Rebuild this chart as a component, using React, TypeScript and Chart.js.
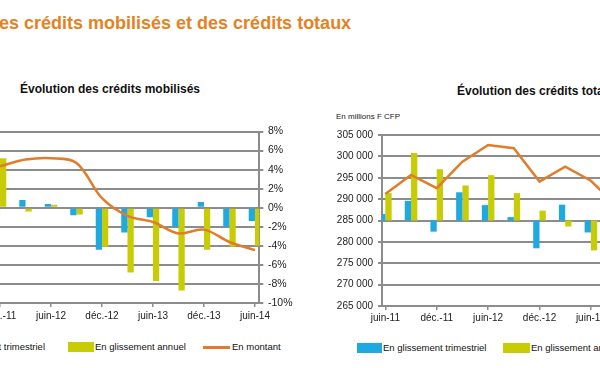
import React, { useEffect, useRef } from 'react';
import { Chart, registerables } from 'chart.js';

Chart.register(...registerables);

// ---------- Left chart: Évolution des crédits mobilisés ----------
const leftCategories = ['déc.-11', 'mars-12', 'juin-12', 'sept.-12', 'déc.-12', 'mars-13', 'juin-13', 'sept.-13', 'déc.-13', 'mars-14', 'juin-14'];
const leftTickLabels = ['déc.-11', 'juin-12', 'déc.-12', 'juin-13', 'déc.-13', 'juin-14'];
const leftTrimestriel = [-1.0, 0.8, 0.4, -0.8, -4.4, -2.6, -1.0, -2.0, 0.6, -2.0, -1.4];
const leftAnnuel = [5.2, -0.4, 0.3, -0.7, -4.1, -6.8, -7.7, -8.7, -4.4, -4.1, -4.0];
const leftMontant = [4.35, 5.05, 5.2, 4.7, 1.0, -0.85, -1.5, -2.7, -2.3, -3.6, -4.45];

// ---------- Right chart: Évolution des crédits totaux ----------
const rightCategories = ['juin-11', 'sept.-11', 'déc.-11', 'mars-12', 'juin-12', 'sept.-12', 'déc.-12', 'mars-13', 'juin-13', 'sept.-13'];
const rightTickLabels = ['juin-11', 'déc.-11', 'juin-12', 'déc.-12', 'juin-13'];
const rightTrimestriel = [0.75, 2.3, -1.3, 3.3, 1.8, 0.4, -3.25, 1.85, -1.4, null];
const rightAnnuel = [3.2, 7.9, 6.0, 4.1, 5.3, 3.2, 1.15, -0.7, -3.5, null];
const rightMontant = [291200, 295650, 292550, 298750, 302650, 301900, 294100, 297600, 294300, 288400];

const BLUE = '#1EA9E1';
const YELLOW = '#C8CC05';
const ORANGE = '#E07D2B';
const GRID = '#8C8C8C';
const FONT = "'Liberation Sans', Arial, sans-serif";

if (typeof document !== 'undefined') {
  document.body.style.margin = '0';
}

const toXY = (arr: (number | null)[]) => arr.map((v, i) => ({ x: i, y: v }));

const fmtThousands = (v: number) => String(v).replace(/\B(?=(\d{3})+(?!\d))/g, ' ');

export default function App() {
  const leftRef = useRef<HTMLCanvasElement>(null);
  const rightRef = useRef<HTMLCanvasElement>(null);

  useEffect(() => {
    const left = new Chart(leftRef.current as HTMLCanvasElement, {
      type: 'bar',
      data: {
        datasets: [
          { type: 'line', label: 'En montant', data: toXY(leftMontant), borderColor: ORANGE, borderWidth: 2.5, pointRadius: 0, tension: 0.35, order: 0 } as any,
          { label: 'En glissement trimestriel', data: toXY(leftTrimestriel), backgroundColor: BLUE, categoryPercentage: 0.49, barPercentage: 1, clip: 0, order: 1 } as any,
          { label: 'En glissement annuel', data: toXY(leftAnnuel), backgroundColor: YELLOW, categoryPercentage: 0.49, barPercentage: 1, clip: 0, order: 2 } as any,
        ],
      },
      options: {
        responsive: false,
        animation: false,
        layout: { padding: { left: 14.7, top: 31.5, right: 0, bottom: 0 } },
        plugins: { legend: { display: false }, tooltip: { enabled: false } },
        scales: {
          x: {
            type: 'linear',
            offset: false,
            min: -2.17,
            max: 10.17,
            afterBuildTicks: (s: any) => {
              s.ticks = leftTickLabels.map((l) => ({ value: leftCategories.indexOf(l) }));
            },
            afterFit: (s: any) => { s.height = 30; },
            grid: { offset: false, drawOnChartArea: false, tickLength: 4, color: GRID, lineWidth: 1.5 },
            border: { color: GRID, width: 2 },
            ticks: {
              autoSkip: false, maxRotation: 0, padding: 3, color: '#222',
              font: { family: FONT, size: 10 },
              callback: (v: any) => leftCategories[v as number] ?? '',
            },
          },
          y: {
            position: 'right',
            min: -10,
            max: 8,
            afterFit: (s: any) => { s.width = 40.7; },
            grid: { color: GRID, lineWidth: 2, tickLength: 4 },
            border: { color: GRID, width: 2 },
            ticks: {
              stepSize: 2, padding: 4.7, color: '#222',
              font: { family: FONT, size: 10.5 },
              callback: (v: any) => `${v}%`,
            },
          },
        },
      } as any,
    });

    const right = new Chart(rightRef.current as HTMLCanvasElement, {
      type: 'bar',
      data: {
        datasets: [
          { type: 'line', label: 'En montant', data: toXY(rightMontant), yAxisID: 'y', borderColor: ORANGE, borderWidth: 2.5, pointRadius: 0, tension: 0, order: 0 } as any,
          { label: 'En glissement trimestriel', data: toXY(rightTrimestriel), yAxisID: 'y1', backgroundColor: BLUE, categoryPercentage: 0.49, barPercentage: 1, clip: 0, order: 1 } as any,
          { label: 'En glissement annuel', data: toXY(rightAnnuel), yAxisID: 'y1', backgroundColor: YELLOW, categoryPercentage: 0.49, barPercentage: 1, clip: 0, order: 2 } as any,
        ],
      },
      options: {
        responsive: false,
        animation: false,
        layout: { padding: { left: 0, top: 35, right: 0, bottom: 0 } },
        plugins: { legend: { display: false }, tooltip: { enabled: false } },
        scales: {
          x: {
            type: 'linear',
            offset: false,
            min: -0.13,
            max: 10.3,
            afterBuildTicks: (s: any) => {
              s.ticks = rightTickLabels.map((l) => ({ value: rightCategories.indexOf(l) }));
            },
            afterFit: (s: any) => { s.height = 30; },
            grid: { offset: false, drawOnChartArea: false, tickLength: 4, color: GRID, lineWidth: 1.5 },
            border: { color: GRID, width: 2 },
            ticks: {
              autoSkip: false, maxRotation: 0, padding: 2, color: '#222',
              font: { family: FONT, size: 10 },
              callback: (v: any) => rightCategories[v as number] ?? '',
            },
          },
          y: {
            position: 'left',
            min: 265000,
            max: 305000,
            afterFit: (s: any) => { s.width = 62; },
            grid: { color: GRID, lineWidth: 2, tickLength: 4 },
            border: { color: GRID, width: 2 },
            ticks: {
              stepSize: 5000, padding: 5, color: '#222',
              font: { family: FONT, size: 10 },
              callback: (v: any) => fmtThousands(v as number),
            },
          },
          y1: {
            position: 'right',
            display: false,
            min: -10,
            max: 10,
            grid: { drawOnChartArea: false },
          },
        },
      } as any,
    });

    return () => {
      left.destroy();
      right.destroy();
    };
  }, []);

  const legendText: React.CSSProperties = { fontFamily: FONT, fontSize: 9.5, color: '#111', whiteSpace: 'nowrap', lineHeight: '10px' };

  return (
    <div style={{ position: 'relative', width: 600, height: 368, overflow: 'hidden', background: '#fff' }}>
      <div style={{ position: 'absolute', left: -1, top: 13, fontFamily: FONT, fontWeight: 'bold', fontSize: 18, lineHeight: '20px', color: '#E6821E', whiteSpace: 'nowrap' }}>
        es crédits mobilisés et des crédits totaux
      </div>

      <div style={{ position: 'absolute', left: 20, top: 81.5, fontFamily: FONT, fontWeight: 'bold', fontSize: 12, lineHeight: '14px', color: '#111', whiteSpace: 'nowrap' }}>
        Évolution des crédits mobilisés
      </div>
      <div style={{ position: 'absolute', left: 457, top: 84, fontFamily: FONT, fontWeight: 'bold', fontSize: 12, lineHeight: '14px', color: '#111', whiteSpace: 'nowrap' }}>
        Évolution des crédits totaux
      </div>
      <div style={{ position: 'absolute', left: 336, top: 112, fontFamily: FONT, fontSize: 8, lineHeight: '10px', color: '#222', whiteSpace: 'nowrap' }}>
        En millions F CFP
      </div>

      <canvas ref={leftRef} width={370} height={233} style={{ position: 'absolute', left: -70, top: 100 }} />
      <canvas ref={rightRef} width={330} height={236} style={{ position: 'absolute', left: 320, top: 100 }} />

      {/* Left legend */}
      <div style={{ position: 'absolute', right: 555, top: 342, display: 'flex', alignItems: 'center', height: 10 }}>
        <div style={{ width: 26, height: 10, background: BLUE, marginRight: 2 }} />
        <span style={legendText}>En glissement trimestriel</span>
      </div>
      <div style={{ position: 'absolute', left: 68, top: 342, display: 'flex', alignItems: 'center', height: 10 }}>
        <div style={{ width: 26, height: 10, background: YELLOW, marginRight: 1 }} />
        <span style={legendText}>En glissement annuel</span>
      </div>
      <div style={{ position: 'absolute', left: 203, top: 342, display: 'flex', alignItems: 'center', height: 10 }}>
        <div style={{ width: 27, height: 3, background: ORANGE, marginRight: 2 }} />
        <span style={legendText}>En montant</span>
      </div>

      {/* Right legend */}
      <div style={{ position: 'absolute', left: 357, top: 343, display: 'flex', alignItems: 'center', height: 10 }}>
        <div style={{ width: 25, height: 10, background: BLUE, marginRight: 1 }} />
        <span style={legendText}>En glissement trimestriel</span>
      </div>
      <div style={{ position: 'absolute', left: 503, top: 343, display: 'flex', alignItems: 'center', height: 10 }}>
        <div style={{ width: 27, height: 10, background: YELLOW, marginRight: 1 }} />
        <span style={legendText}>En glissement annuel</span>
      </div>
    </div>
  );
}
